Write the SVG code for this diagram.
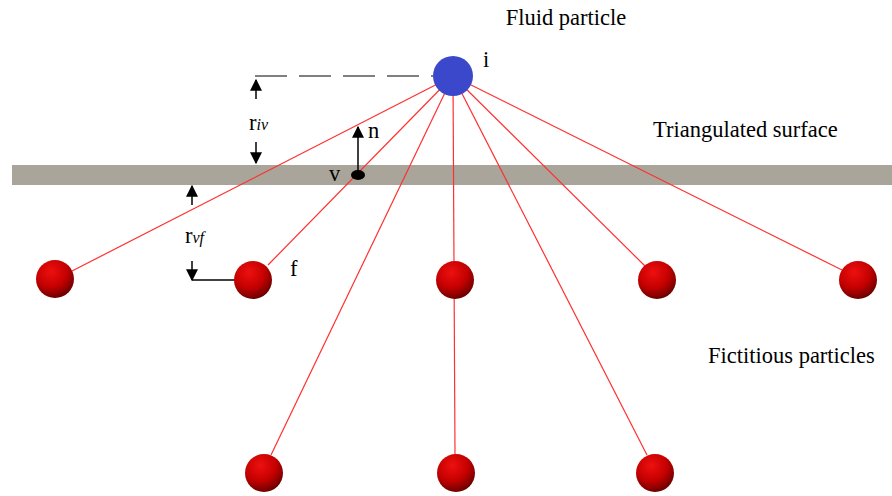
<svg xmlns="http://www.w3.org/2000/svg" width="892" height="496" viewBox="0 0 892 496">
<defs>
<radialGradient id="sph" cx="0.4" cy="0.3" r="0.75">
<stop offset="0" stop-color="#ee1010"/>
<stop offset="0.55" stop-color="#c40000"/>
<stop offset="1" stop-color="#600000"/>
</radialGradient>
<marker id="ah" viewBox="0 0 10 10" refX="9" refY="5" markerWidth="12" markerHeight="12" markerUnits="userSpaceOnUse" orient="auto">
<path d="M0,0 L10,5 L0,10 z" fill="#000"/>
</marker>
</defs>
<style>
.t{font-family:"Liberation Serif","Times New Roman",serif;font-size:22.5px;fill:#000}
.ray{stroke:#ff3030;stroke-width:1.2;fill:none}
.ar{stroke:#000;stroke-width:1.5;fill:none}
.sp{fill:url(#sph)}
</style>
<rect x="12" y="165" width="880" height="20" fill="#a9a59a"/>
<g id="connectors">
<line class="ray" x1="453" y1="76" x2="72" y2="271"/>
<line class="ray" x1="453" y1="76" x2="268" y2="265"/>
<line class="ray" x1="453" y1="76" x2="455" y2="455"/>
<line class="ray" x1="453" y1="76" x2="271" y2="455"/>
<line class="ray" x1="453" y1="76" x2="647" y2="455"/>
<line class="ray" x1="453" y1="76" x2="645" y2="266"/>
<line class="ray" x1="453" y1="76" x2="842" y2="270"/>
<line x1="255" y1="76" x2="433" y2="76" stroke="#000" stroke-width="1" stroke-dasharray="32,12"/>
<line class="ar" x1="256" y1="99" x2="256" y2="80" marker-end="url(#ah)"/>
<line class="ar" x1="256" y1="142" x2="256" y2="163" marker-end="url(#ah)"/>
<line class="ar" x1="358" y1="175" x2="358" y2="127" marker-end="url(#ah)"/>
<line class="ar" x1="192" y1="205" x2="192" y2="186" marker-end="url(#ah)"/>
<line class="ar" x1="192" y1="261" x2="192" y2="280" marker-end="url(#ah)"/>
<line x1="192" y1="280" x2="238" y2="280" stroke="#000" stroke-width="1.3"/>
</g>
<g id="i"><circle cx="453" cy="76" r="20" fill="#3c48cc"/><text class="t" x="483" y="67">i</text></g>
<g id="v"><ellipse cx="358" cy="175" rx="7" ry="5" fill="#000"/><text class="t" x="329" y="181">v</text></g>
<g id="f1"><circle class="sp" cx="55" cy="279" r="19"/></g>
<g id="f2"><circle class="sp" cx="253" cy="280" r="19"/><text class="t" x="290" y="276">f</text></g>
<g id="f3"><circle class="sp" cx="455" cy="280" r="19"/></g>
<g id="f4"><circle class="sp" cx="657" cy="280" r="19"/></g>
<g id="f5"><circle class="sp" cx="858" cy="280" r="19"/></g>
<g id="f6"><circle class="sp" cx="264" cy="473" r="19"/></g>
<g id="f7"><circle class="sp" cx="456" cy="473" r="19"/></g>
<g id="f8"><circle class="sp" cx="655" cy="473" r="19"/></g>
<g id="labels">
<text class="t" x="566" y="25" text-anchor="middle">Fluid particle</text>
<text class="t" x="653" y="137">Triangulated surface</text>
<text class="t" x="708" y="363">Fictitious particles</text>
<text class="t" x="368" y="138">n</text>
<text class="t" x="249" y="130">r<tspan font-style="italic" font-size="16">iv</tspan></text>
<text class="t" x="185" y="243">r<tspan font-style="italic" font-size="16">vf</tspan></text>
</g>
</svg>
